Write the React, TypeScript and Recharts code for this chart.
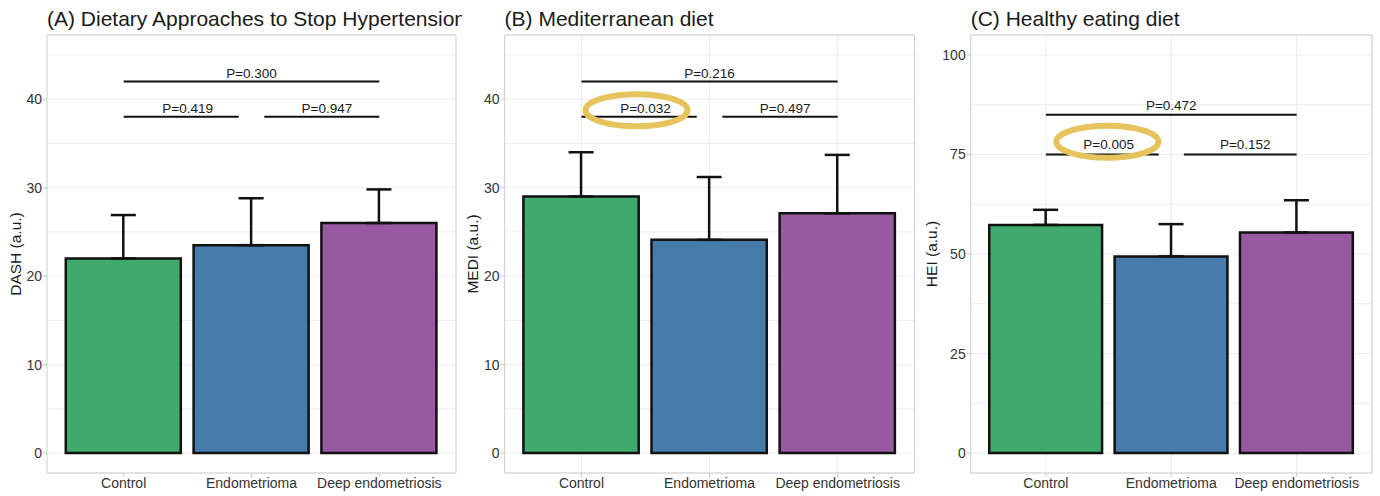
import React from "react";
import {
  BarChart,
  Bar,
  Cell,
  XAxis,
  YAxis,
  CartesianGrid,
  ErrorBar,
  ReferenceLine,
  ReferenceDot,
  ReferenceArea,
} from "recharts";

const FONT = "'Liberation Sans', Arial, sans-serif";

const categories = ["Control", "Endometrioma", "Deep endometriosis"];
const COLORS = ["#3FAA6B", "#467BAA", "#9759A0"];

// means and upper SD
const dashMean = [22.0, 23.5, 26.0];
const dashSd = [4.9, 5.3, 3.8];
const mediMean = [29.0, 24.1, 27.1];
const mediSd = [5.0, 7.1, 6.6];
const heiMean = [57.3, 49.4, 55.4];
const heiSd = [3.8, 8.1, 8.1];

const tenTicks = [0, 10, 20, 30, 40];
const tenGrid = [0, 5, 10, 15, 20, 25, 30, 35, 40, 45];
const heiTicks = [0, 25, 50, 75, 100];
const heiGrid = [0, 12.5, 25, 37.5, 50, 62.5, 75, 87.5, 100];

const dashP = [
  { x1: 1, x2: 3, y: 42, label: "P=0.300", lx: 2, ly: 42.4 },
  { x1: 1, x2: 1.9, y: 38, label: "P=0.419", lx: 1.5, ly: 38.4 },
  { x1: 2.1, x2: 3, y: 38, label: "P=0.947", lx: 2.59, ly: 38.4 },
];
const mediP = [
  { x1: 1, x2: 3, y: 42, label: "P=0.216", lx: 2, ly: 42.4 },
  { x1: 1, x2: 1.9, y: 38, label: "P=0.032", lx: 1.5, ly: 38.4 },
  { x1: 2.1, x2: 3, y: 38, label: "P=0.497", lx: 2.59, ly: 38.4 },
];
const heiP = [
  { x1: 1, x2: 3, y: 85, label: "P=0.472", lx: 2, ly: 86.2 },
  { x1: 1, x2: 1.9, y: 75, label: "P=0.005", lx: 1.5, ly: 76.3 },
  { x1: 2.1, x2: 3, y: 75, label: "P=0.152", lx: 2.59, ly: 76.3 },
];

// highlighted (significant) labels
const mediMark = { x: 1.43, y: 38.75 };
const heiMark = { x: 1.49, y: 78.2 };

type Bracket = { x1: number; x2: number; y: number; label: string; lx: number; ly: number };

function Panel(props: {
  left: number;
  width: number;
  title: string;
  yLabel: string;
  yLabelX: number;
  means: number[];
  sds: number[];
  domain: [number, number];
  ticks: number[];
  grid: number[];
  vgrid: boolean;
  brackets: Bracket[];
  mark?: { x: number; y: number };
  ml: number;
  mr: number;
  yw: number;
}) {
  const { left, width, ml, mr, yw, domain } = props;
  const height = 496;
  const data = categories.map((name, i) => ({
    pos: i + 1,
    name,
    mean: props.means[i],
    err: [0, props.sds[i]],
  }));
  const plotW = width - ml - mr - yw;
  const barSize = (plotW / 3.2) * 0.9;
  const plotLeft = ml + yw;

  return (
    <div
      style={{
        position: "absolute",
        left,
        top: 0,
        width,
        height,
        overflow: "hidden",
      }}
    >
      <div
        style={{
          position: "absolute",
          left: plotLeft,
          top: 8,
          fontSize: 21,
          lineHeight: "21px",
          whiteSpace: "nowrap",
          color: "#1a1a1a",
          fontFamily: FONT,
        }}
      >
        {props.title}
      </div>
      <BarChart
        width={width}
        height={height}
        data={data}
        margin={{ top: 35, right: mr, left: ml, bottom: 3 }}
        style={{ fontFamily: FONT }}
      >
        <CartesianGrid
          yAxisId="grid"
          stroke="#ececec"
          strokeWidth={1}
          vertical={props.vgrid}
        />
        <XAxis
          dataKey="pos"
          type="number"
          domain={[0.4, 3.6]}
          ticks={[1, 2, 3]}
          interval={0}
          allowDataOverflow
          tickFormatter={(v: number) => categories[v - 1]}
          axisLine={false}
          tickLine={{ stroke: "#c8c8c8" }}
          tickSize={4}
          tickMargin={1}
          height={20}
          tick={{ fontSize: 14, fill: "#333" }}
        />
        <YAxis
          yAxisId="grid"
          hide
          type="number"
          domain={domain}
          ticks={props.grid}
          interval={0}
          allowDataOverflow
        />
        <YAxis
          type="number"
          domain={domain}
          ticks={props.ticks}
          interval={0}
          allowDataOverflow
          width={yw}
          axisLine={false}
          tickLine={{ stroke: "#c8c8c8" }}
          tickSize={4}
          tickMargin={1}
          tick={{ fontSize: 14, fill: "#333" }}
          label={{
            content: (p: any) => {
              const vb = p.viewBox || {};
              const cy = (vb.y || 35) + (vb.height || 438) / 2;
              const cx = props.yLabelX;
              return (
                <text
                  x={cx}
                  y={cy}
                  transform={`rotate(-90 ${cx} ${cy})`}
                  textAnchor="middle"
                  dy="0.35em"
                  fontSize={15.5}
                  fill="#1a1a1a"
                >
                  {props.yLabel}
                </text>
              );
            },
          }}
        />
        <ReferenceArea
          x1={0.4}
          x2={3.6}
          y1={domain[0]}
          y2={domain[1]}
          fill="none"
          stroke="#cfcfcf"
          strokeWidth={1}
          ifOverflow="visible"
        />
        <Bar
          dataKey="mean"
          barSize={barSize}
          stroke="#111"
          strokeWidth={2.5}
          isAnimationActive={false}
        >
          {data.map((d, i) => (
            <Cell key={d.name} fill={COLORS[i]} />
          ))}
          <ErrorBar
            dataKey="err"
            width={12.5}
            stroke="#111"
            strokeWidth={2.5}
            direction="y"
            isAnimationActive={false}
          />
        </Bar>
        {props.brackets.map((b) => (
          <ReferenceLine
            key={"b" + b.label}
            segment={[
              { x: b.x1, y: b.y },
              { x: b.x2, y: b.y },
            ]}
            stroke="#111"
            strokeWidth={2}
          />
        ))}
        {props.brackets.map((b) => (
          <ReferenceDot
            key={"t" + b.label}
            x={b.lx}
            y={b.ly}
            r={0}
            fill="none"
            stroke="none"
            label={{
              value: b.label,
              position: "top",
              offset: 0,
              fontSize: 13.5,
              fill: "#1a1a1a",
            }}
          />
        ))}
        {props.mark && (
          <ReferenceDot
            x={props.mark.x}
            y={props.mark.y}
            r={1}
            shape={(p: any) => (
              <ellipse
                cx={p.cx}
                cy={p.cy}
                rx={51}
                ry={16}
                fill="none"
                stroke="#E6C35C"
                strokeWidth={6}
              />
            )}
          />
        )}
      </BarChart>
    </div>
  );
}

export default function App() {
  return (
    <div
      style={{
        position: "absolute",
        left: 0,
        top: 0,
        width: 1380,
        height: 496,
        background: "#fff",
        fontFamily: FONT,
      }}
    >
      <Panel
        left={0}
        width={462}
        title="(A) Dietary Approaches to Stop Hypertension"
        yLabel="DASH (a.u.)"
        yLabelX={15.5}
        means={dashMean}
        sds={dashSd}
        domain={[-2.25, 47.25]}
        ticks={tenTicks}
        grid={tenGrid}
        vgrid={false}
        brackets={dashP}
        ml={17}
        mr={6}
        yw={30}
      />
      <Panel
        left={462}
        width={462}
        title="(B) Mediterranean diet"
        yLabel="MEDI (a.u.)"
        yLabelX={11}
        means={mediMean}
        sds={mediSd}
        domain={[-2.25, 47.25]}
        ticks={tenTicks}
        grid={tenGrid}
        vgrid={true}
        brackets={mediP}
        mark={mediMark}
        ml={12.6}
        mr={9.5}
        yw={30}
      />
      <Panel
        left={924}
        width={456}
        title="(C) Healthy eating diet"
        yLabel="HEI (a.u.)"
        yLabelX={7.5}
        means={heiMean}
        sds={heiSd}
        domain={[-5, 105]}
        ticks={heiTicks}
        grid={heiGrid}
        vgrid={true}
        brackets={heiP}
        mark={heiMark}
        ml={11.7}
        mr={8.1}
        yw={35}
      />
    </div>
  );
}
